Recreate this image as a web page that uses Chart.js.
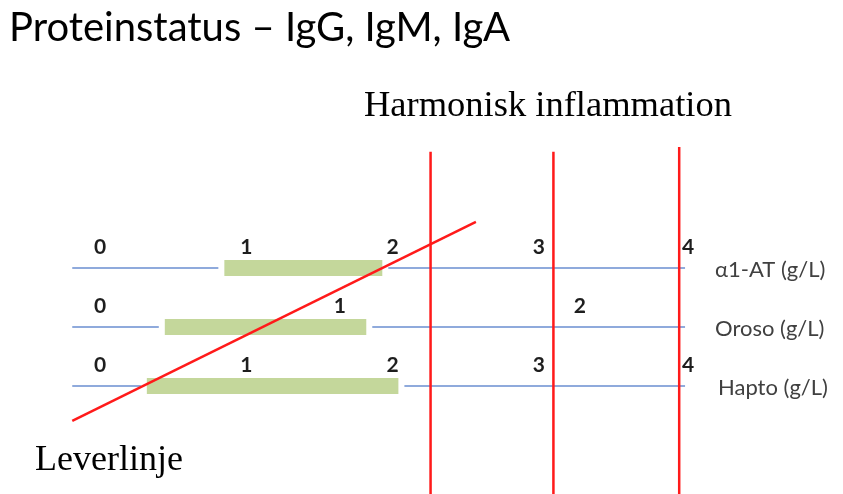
<!DOCTYPE html>
<html>
<head>
<meta charset="utf-8">
<script src="https://cdn.jsdelivr.net/npm/chart.js@4.4.1/dist/chart.umd.min.js"></script>
<style>
html, body { margin: 0; padding: 0; background: #fff; }
#wrap { position: relative; width: 843px; height: 494px; overflow: hidden; }
#chart { position: absolute; left: 0; top: 0; }
.txt { position: absolute; white-space: nowrap; color: #000; line-height: 1; }
#title { left: 9px; top: 6px; font-family: Lato, sans-serif; font-size: 40px; }
#harm { left: 364px; top: 86px; font-family: "Liberation Serif", serif; font-size: 36.5px; }
#lever { left: 35px; top: 440px; font-family: "Liberation Serif", serif; font-size: 36px; }
</style>
</head>
<body>
<div id="wrap">
  <canvas id="chart" width="843" height="494"></canvas>
  <div class="txt" id="title">Proteinstatus – IgG, IgM, IgA</div>
  <div class="txt" id="harm">Harmonisk inflammation</div>
  <div class="txt" id="lever">Leverlinje</div>
</div>
<script>
// rader (y = radindex) och deras skalor
const rows = ['α1-AT (g/L)', 'Oroso (g/L)', 'Hapto (g/L)'];
const rowTicks = [[0, 1, 2, 3, 4], [0, 1, 2], [0, 1, 2, 3, 4]];
const rowUnit = [1, 1.64, 1]; // axelenheter per g/L
// referensintervall (gröna staplar), g/L
const refLow = [0.85, 0.27, 0.32];
const refHigh = [1.93, 1.11, 2.04];
// blå axellinjer
const axisStart = -0.19;
const axisEnd = 4.0;
// röda vertikala linjer (harmonisk inflammation)
const inflX = [2.26, 3.10, 3.96];
const inflTop = [-1.97, -1.97, -2.05];
const inflBottom = 3.84;
// leverlinje (diagonal)
const leverX = [-0.19, 2.57];
const leverY = [2.59, -0.78];

const RED = '#ff1a1a';
const BLUE = '#8faadc';
const GREEN = '#c4d79b';

const datasets = [];

rows.forEach((r, i) => {
  datasets.push({
    data: [{ x: axisStart, y: i }, { x: axisEnd, y: i }],
    borderColor: BLUE, borderWidth: 2, order: 5
  });
  // vit kant runt stapeln
  datasets.push({
    data: [{ x: refLow[i] * rowUnit[i], y: i }, { x: refHigh[i] * rowUnit[i], y: i }],
    borderColor: '#ffffff', borderWidth: 12, borderCapStyle: 'square', order: 4
  });
  datasets.push({
    data: [{ x: refLow[i] * rowUnit[i], y: i }, { x: refHigh[i] * rowUnit[i], y: i }],
    borderColor: GREEN, borderWidth: 16, borderCapStyle: 'butt', order: 3
  });
});

inflX.forEach((v, i) => {
  datasets.push({
    data: [{ x: v, y: inflTop[i] }, { x: v, y: inflBottom }],
    borderColor: RED, borderWidth: 2.5, order: 2
  });
});

datasets.push({
  data: leverX.map((v, i) => ({ x: v, y: leverY[i] })),
  borderColor: RED, borderWidth: 2.5, order: 1
});

// siffror och radnamn
const labelPlugin = {
  id: 'rowLabels',
  afterDatasetsDraw(chart) {
    const { ctx, scales: { x, y } } = chart;
    ctx.save();
    rows.forEach((name, i) => {
      const py = y.getPixelForValue(i);
      ctx.font = 'bold 21px Lato';
      ctx.fillStyle = '#1e1e1e';
      ctx.textAlign = 'center';
      ctx.textBaseline = 'middle';
      rowTicks[i].forEach(t => {
        ctx.fillText(String(t), x.getPixelForValue(t * rowUnit[i]) + (t === 4 ? 3 : 0), py - 21);
      });
      ctx.font = '22px Lato';
      ctx.fillStyle = '#404040';
      ctx.textAlign = 'left';
      ctx.fillText(name, i === 2 ? 718 : 715, py + 2);
    });
    ctx.restore();
  }
};

new Chart(document.getElementById('chart'), {
  type: 'scatter',
  data: { datasets: datasets.map(d => Object.assign({ showLine: true, pointRadius: 0, pointHoverRadius: 0 }, d)) },
  options: {
    responsive: false,
    animation: false,
    events: [],
    layout: { padding: 0 },
    plugins: { legend: { display: false }, tooltip: { enabled: false } },
    scales: {
      x: { type: 'linear', display: false, min: -0.684, max: 5.080 },
      y: { type: 'linear', display: false, reverse: true, min: -4.542, max: 3.831 }
    }
  },
  plugins: [labelPlugin]
});
</script>
</body>
</html>
